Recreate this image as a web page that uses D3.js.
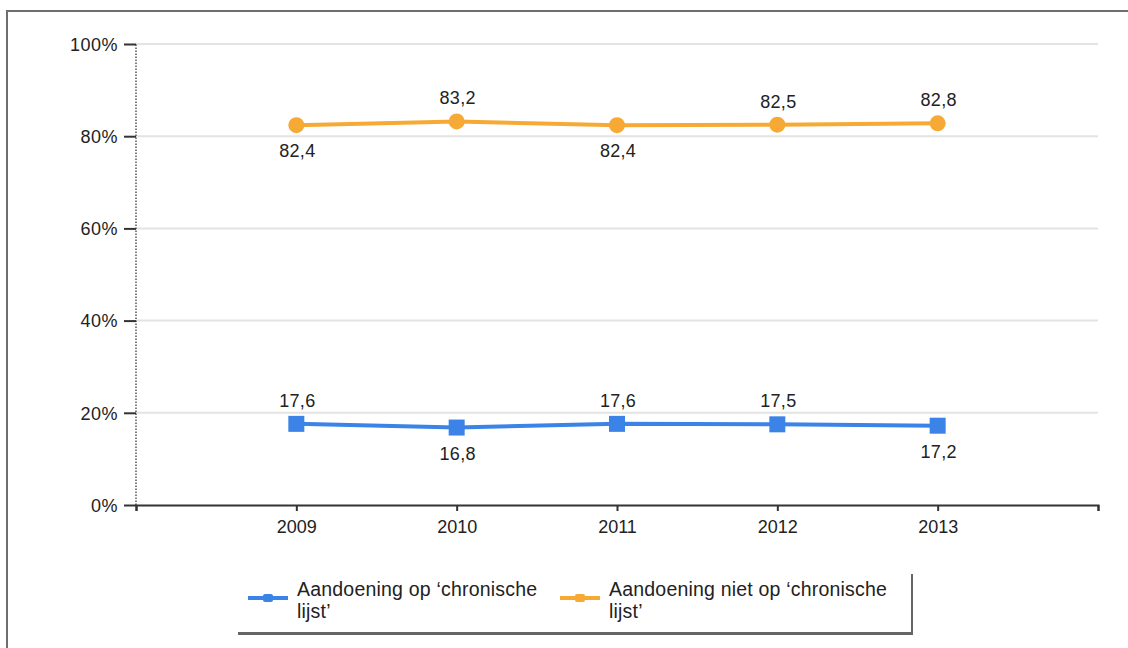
<!DOCTYPE html>
<html>
<head>
<meta charset="utf-8">
<script src="https://cdn.jsdelivr.net/npm/d3@7"></script>
<style>
  body { margin: 0; background: #fff; }
  text { font-family: "Liberation Sans", Arial, sans-serif; fill: #222; }
</style>
</head>
<body>
<div id="chart"></div>
<script>
// chart data
const years = ["2009", "2010", "2011", "2012", "2013"];
const chronisch = [17.6, 16.8, 17.6, 17.5, 17.2];
const nietChronisch = [82.4, 83.2, 82.4, 82.5, 82.8];
const chronischLabelPos = ["above", "below", "above", "above", "below"];
const nietLabelPos = ["below", "above", "below", "above", "above"];
const yTicks = [0, 20, 40, 60, 80, 100];
const seriesNames = ["Aandoening op \u2018chronische|lijst\u2019", "Aandoening niet op \u2018chronische|lijst\u2019"];

const W = 1128, H = 648;
const margin = {top: 44, left: 136, right: 30, bottom: 143};

const svg = d3.select("#chart").append("svg")
    .attr("width", W).attr("height", H);

// outer frame (left and top edge)
svg.append("path")
    .attr("d", "M7," + H + " V11 H" + W)
    .attr("fill", "none").attr("stroke", "#6e6e6e").attr("stroke-width", 2);

const plotW = 1098 - margin.left;
const plotH = 505 - margin.top;

const g = svg.append("g")
    .attr("transform", "translate(" + margin.left + "," + margin.top + ")");

const x = d3.scalePoint().domain(["", ...years, " "]).range([0, plotW]);
const y = d3.scaleLinear().domain([0, 100]).range([plotH, 0]);

// gridlines
g.selectAll(".grid").data(yTicks.filter(d => d > 0)).enter().append("line")
    .attr("x1", 0).attr("x2", plotW)
    .attr("y1", d => y(d)).attr("y2", d => y(d))
    .attr("stroke", "#e3e3e3").attr("stroke-width", 2);

// y axis
const yAxis = g.append("g").call(d3.axisLeft(y).tickValues(yTicks).tickSize(12).tickPadding(6).tickFormat(d => d + "%"));
yAxis.select(".domain").attr("stroke", "#555").attr("stroke-dasharray", "1.5,1.5").attr("stroke-width", 1.5)
    .attr("d", "M0," + plotH + "V0");
yAxis.selectAll(".tick line").attr("stroke", "#333").attr("stroke-width", 2);
yAxis.selectAll("text").style("font-size", "18px").style("letter-spacing", "0.5px").attr("dy", "0.35em");

// x axis
const xAxis = g.append("g").attr("transform", "translate(0," + plotH + ")")
    .call(d3.axisBottom(x).tickSize(6).tickPadding(9));
xAxis.select(".domain").attr("stroke", "#333").attr("stroke-width", 2);
xAxis.selectAll(".tick line").attr("stroke", "#333").attr("stroke-width", 2);
xAxis.selectAll("text").style("font-size", "18px");

const line = d3.line().x((d, i) => x(years[i])).y(d => y(d));

function drawSeries(values, color, shape, labelPos) {
    g.append("path").datum(values)
        .attr("d", line).attr("fill", "none")
        .attr("stroke", color).attr("stroke-width", 4);
    if (shape === "circle") {
        g.selectAll(null).data(values).enter().append("circle")
            .attr("cx", (d, i) => x(years[i])).attr("cy", d => y(d))
            .attr("r", 8).attr("fill", color);
    } else {
        g.selectAll(null).data(values).enter().append("rect")
            .attr("x", (d, i) => x(years[i]) - 8).attr("y", d => y(d) - 8)
            .attr("width", 16).attr("height", 16).attr("fill", color);
    }
    g.selectAll(null).data(values).enter().append("text")
        .attr("x", (d, i) => x(years[i]) + 1)
        .attr("y", (d, i) => y(d) + (labelPos[i] === "above" ? -17 : 32))
        .attr("text-anchor", "middle")
        .style("font-size", "18px")
        .style("letter-spacing", "0.3px")
        .text(d => String(d).replace(".", ","));
}

drawSeries(nietChronisch, "#f6a935", "circle", nietLabelPos);
drawSeries(chronisch, "#3c83e8", "rect", chronischLabelPos);

// legend
const lg = svg.append("g");
lg.append("rect").attr("x", 238).attr("y", 574).attr("width", 675).attr("height", 61).attr("fill", "#666");
lg.append("rect").attr("x", 236).attr("y", 571).attr("width", 675).attr("height", 61)
    .attr("fill", "#fff");
const legendItems = [
    {name: seriesNames[0], color: "#3c83e8", x: 248},
    {name: seriesNames[1], color: "#f6a935", x: 560}
];
legendItems.forEach(it => {
    lg.append("line").attr("x1", it.x).attr("x2", it.x + 40).attr("y1", 598).attr("y2", 598)
        .attr("stroke", it.color).attr("stroke-width", 4);
    lg.append("rect").attr("x", it.x + 15).attr("y", 594).attr("width", 10).attr("height", 8)
        .attr("rx", 2).attr("fill", it.color);
    const t = lg.append("text").attr("x", it.x + 49).attr("y", 596).style("font-size", "19.5px")
        .style("letter-spacing", "0.2px");
    it.name.split("|").forEach((s, i) => {
        t.append("tspan").attr("x", it.x + 49).attr("dy", i === 0 ? 0 : 22).text(s);
    });
});
</script>
</body>
</html>
